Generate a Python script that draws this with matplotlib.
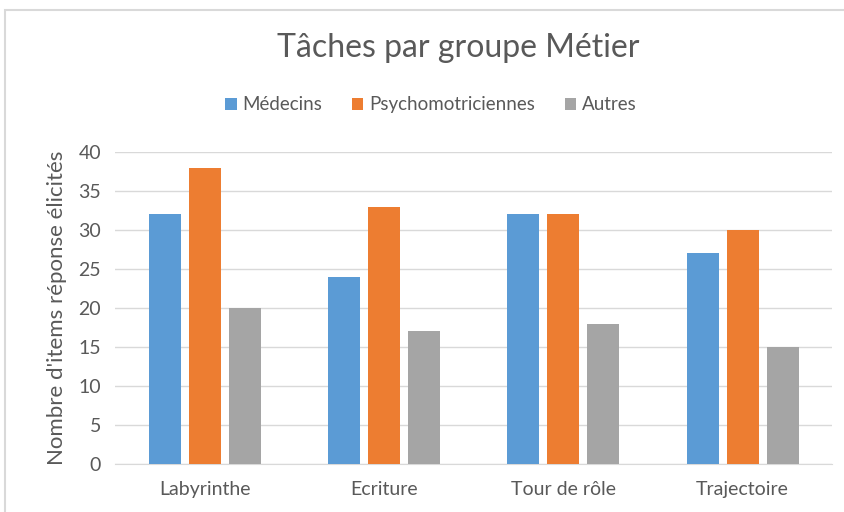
import numpy as np
import matplotlib.pyplot as plt
from matplotlib.patches import Rectangle

# Données
categories = ['Labyrinthe', 'Ecriture', 'Tour de rôle', 'Trajectoire']
medecins = [32, 24, 32, 27]
psychomotriciennes = [38, 33, 32, 30]
autres = [20, 17, 18, 15]
series = ['Médecins', 'Psychomotriciennes', 'Autres']
couleurs = ['#5B9BD5', '#ED7D31', '#A5A5A5']

plt.rcParams['font.family'] = ['Lato', 'DejaVu Sans']
gris = '#595959'

fig = plt.figure(figsize=(8.45, 5.12), dpi=100)
ax = fig.add_axes([0.136, 0.094, 0.849, 0.609])

# cadre du graphique
fig.patches.append(Rectangle((0.006, -0.1), 1.2, 1.08, transform=fig.transFigure,
                             fill=False, edgecolor='#d9d9d9', linewidth=1.5))

x = np.arange(len(categories))
largeur = 0.178
pas = 0.223
for i, (vals, nom) in enumerate(zip([medecins, psychomotriciennes, autres], series)):
    ax.bar(x + (i - 1) * pas, vals, largeur, color=couleurs[i], label=nom, zorder=3)

ax.set_xlim(-0.5, len(categories) - 0.5)
ax.set_ylim(0, 40)
ax.set_yticks(range(0, 41, 5))
ax.set_xticks(x)
ax.set_xticklabels(categories)
ax.yaxis.grid(True, color='#d9d9d9', linewidth=1, zorder=0)
for s in ['top', 'right', 'left']:
    ax.spines[s].set_visible(False)
ax.spines['bottom'].set_color('#d9d9d9')
ax.tick_params(length=0, labelsize=14, colors=gris, pad=10)
ax.tick_params(axis='x', pad=12)
ax.set_ylabel("Nombre d'items réponse élicités", fontsize=16, color=gris, labelpad=8)

fig.text(0.542, 0.907, 'Tâches par groupe Métier', ha='center', va='center',
         fontsize=23, color=gris)
fig.legend(loc='center', bbox_to_anchor=(0.51, 0.795), ncol=3, frameon=False,
           fontsize=13.5, labelcolor=gris, handlelength=0.6, handleheight=0.6,
           handletextpad=0.3, columnspacing=1.6)

plt.savefig('out.png', dpi=100)
